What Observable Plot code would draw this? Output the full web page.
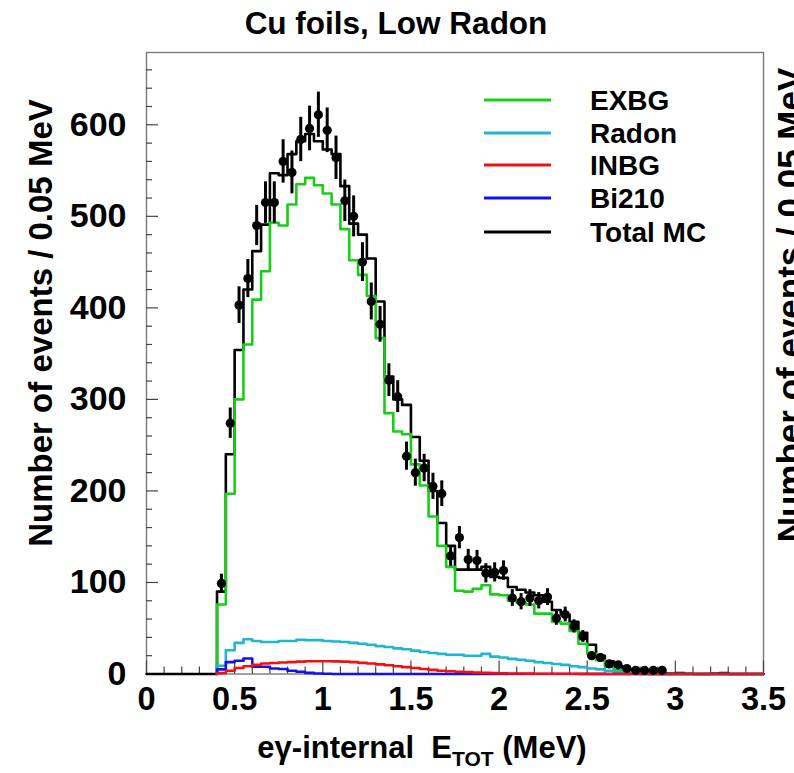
<!DOCTYPE html>
<html><head><meta charset="utf-8">
<script src="https://cdn.jsdelivr.net/npm/d3@7"></script>
<script src="https://cdn.jsdelivr.net/npm/@observablehq/plot@0.6"></script>
<style>
html,body{margin:0;padding:0;background:#fff;}
#chart{width:794px;height:773px;overflow:hidden;position:relative;}
</style></head><body><div id="chart"></div>
<script>
// Bin lower edges (0.05 MeV bins from 0.40 to 3.45)
const binLow = d3.range(62).map(i => +(0.40 + 0.05 * i).toFixed(2));
const xTicks = [0, 0.5, 1, 1.5, 2, 2.5, 3, 3.5];
const yTicks = [0, 100, 200, 300, 400, 500, 600];
const legendLabels = ["EXBG", "Radon", "INBG", "Bi210", "Total MC"];

// EXBG (green)
const exbg = [76,197,300,360,409,440,493,490,513,535,542,534,525,513,486,452,436,413,367,285,
  265,262,229,206,172,140,117,91,90,93,97,87,86,80,78,76,66,66,57,55,
  47,33,22,15,8,4,2,1,0.5,0,0,0,0,0,0,0,0,0,0,0,0,0];
// Radon (cyan)
const radon = [9,26,34,38,36,35,35,36,36,37.5,37,37,36,35.5,35,34,33,32,30.5,29.5,
  28,27,25.5,24,23,22,21,21,20,20,22,19,18,16.5,15.5,14.5,13,12,11,10,
  8.5,7.5,6,5,3.5,2,0.8,0.3,0,0,0,0,0,0,0,0,0,0,0,0,0,0];
// INBG (red)
const inbg = [1,3.5,6.5,8.5,10,11.5,12,12.5,13,13.5,14,14,14,13.8,13.5,13,12.2,11.5,10.5,9.5,
  8.5,7.5,6.5,5.5,4.5,3.5,3,2.5,2,1.5,1.2,1,0.8,0.6,0.5,0.4,0.3,0.3,0.2,0.2,
  0.2,0.1,0.1,0.1,0,0,0,0,0,0,0,0,0,0,0,0,0,0,0,0,0,0];
// Bi210 (blue)
const bi210 = [5,13,14.5,17,8,8,6,5.5,3.5,2.5,1.2,0.5,0.2,0,0,0,0,0,0,0,
  0,0,0,0,0,0,0,0,0,0,0,0,0,0,0,0,0,0,0,0,
  0,0,0,0,0,0,0,0,0,0,0,0,0,0,0,0,0,0,0,0,0,0];
// Total MC (black)
const totalMC = [90,240,354,420,462,491,547,545,568,582,590,582,573,568,533,492,480,454,407,325,
  300,294,259,233,200,165,140,114,114,114,117,106,105,95,92,89,86,79,70,65,
  57,45,32,20,14,8.5,5.5,3.5,2.5,1.5,1,0.5,1,0.3,0,0,0.5,1,0,0,0,0];

// Data points (bins 0.40 .. 2.90), counts and errors
const dataCounts = [99,274,403,432,490,515,515,560,548,584,596,611,594,564,517,500,450,407,382,321,
  303,238,220,225,205,197,129,149,125,124,110,111,113,83,79,83,80,84,61,65,
  52,41,20,18,11,10,6,4,4,4,4];
const dataErrors = [10,16.6,20,20.8,22,22.7,22.7,23.7,23.4,24.2,24.4,24.7,24.4,23.7,22.7,22.4,21.2,20.2,19.5,17.9,
  17.4,15.4,14.8,15,14.3,14,11.4,12.2,11.2,11.1,10.5,10.5,10.6,9.1,8.9,9.1,8.9,9.2,7.8,8.1,
  7.2,6.4,4.5,4.2,3.3,3.2,2.4,2,2,2,2];

const colors = {EXBG: "#18cf18", Radon: "#20b6d2", INBG: "#f21010", Bi210: "#1212ee", "Total MC": "#000000"};

function steps(values, start) {
  const pts = [{x: start, y: 0}];
  values.forEach((v, i) => pts.push({x: binLow[i], y: v}));
  pts.push({x: 3.5, y: values[values.length - 1]});
  return pts;
}

const points = dataCounts.map((c, i) => ({x: binLow[i] + 0.025, y: c, e: dataErrors[i]}));

const W = 794, H = 773;
const mL = 146, mR = 31, mT = 52, mB = 99.5;
const yMax = 679;
const pxPerY = (H - mT - mB) / yMax;
const pxPerX = (W - mL - mR) / 3.5;

const xMinor = d3.range(0, 36).map(i => +(i * 0.1).toFixed(2)).filter(v => !xTicks.some(t => Math.abs(t - v) < 1e-6));
const yMinor = d3.range(0, 34).map(i => i * 20).filter(v => v % 100 !== 0);

const font = "'Liberation Sans', Arial, Helvetica, sans-serif";
const lineW = 2.6;

const plot = Plot.plot({
  width: W, height: H,
  marginLeft: mL, marginRight: mR, marginTop: mT, marginBottom: mB,
  x: {domain: [0, 3.5]},
  y: {domain: [0, yMax]},
  style: {fontFamily: font, background: "white", overflow: "visible"},
  marks: [
    Plot.frame({stroke: "#7a7a7a", strokeWidth: 1.4}),
    // ticks (ROOT style, inward)
    Plot.ruleX(xTicks, {x: d => d, y1: 0, y2: 13 / pxPerY, stroke: "#444", strokeWidth: 1.2}),
    Plot.ruleX(xMinor, {x: d => d, y1: 0, y2: 7 / pxPerY, stroke: "#444", strokeWidth: 1.2}),
    Plot.ruleY(yTicks, {y: d => d, x1: 0, x2: 12 / pxPerX, stroke: "#444", strokeWidth: 1.2}),
    Plot.ruleY(yMinor, {y: d => d, x1: 0, x2: 6 / pxPerX, stroke: "#444", strokeWidth: 1.2}),
    Plot.axisX({ticks: xTicks, tickSize: 0, tickPadding: 13, fontSize: 32.5, fontWeight: "bold", label: null, tickFormat: d => String(d)}),
    Plot.axisY({ticks: yTicks, tickSize: 0, tickPadding: 20, fontSize: 34, fontWeight: "bold", label: null}),
    // histograms
    Plot.line(steps(totalMC, 0), {x: "x", y: "y", curve: "step-after", stroke: colors["Total MC"], strokeWidth: lineW}),
    Plot.line(steps(exbg, 0.4), {x: "x", y: "y", curve: "step-after", stroke: colors.EXBG, strokeWidth: lineW}),
    Plot.line(steps(radon, 0.4), {x: "x", y: "y", curve: "step-after", stroke: colors.Radon, strokeWidth: lineW}),
    Plot.line(steps(bi210, 0.4), {x: "x", y: "y", curve: "step-after", stroke: colors.Bi210, strokeWidth: lineW}),
    Plot.line(steps(inbg, 0.4), {x: "x", y: "y", curve: "step-after", stroke: colors.INBG, strokeWidth: lineW}),
    // data with errors
    Plot.ruleX(points, {x: "x", y1: d => Math.max(0, d.y - d.e), y2: d => d.y + d.e, stroke: "black", strokeWidth: 3}),
    Plot.dot(points, {x: "x", y: "y", r: 4.6, fill: "black", stroke: "none"})
  ]
});

document.getElementById("chart").appendChild(plot);
const svg = d3.select(plot);

// Title
svg.append("text").attr("x", 396).attr("y", 34).attr("text-anchor", "middle")
  .attr("font-family", font).attr("font-weight", "bold").attr("font-size", 31.5)
  .text("Cu foils, Low Radon");

// Y label
svg.append("text").attr("transform", "translate(52,323) rotate(-90)").attr("text-anchor", "middle")
  .attr("font-family", font).attr("font-weight", "bold").attr("font-size", 33)
  .text("Number of events / 0.05 MeV");

// Neighbouring panel's y label (cut by the right edge, as in the reference)
svg.append("text").attr("transform", "translate(802,305) rotate(-90)").attr("text-anchor", "middle")
  .attr("font-family", font).attr("font-weight", "bold").attr("font-size", 35)
  .text("Number of events / 0.05 MeV");

// X label with subscript
const xl = svg.append("text").attr("x", 422).attr("y", 758).attr("text-anchor", "middle")
  .attr("font-family", font).attr("font-weight", "bold").attr("font-size", 31);
xl.append("tspan").text("e\u03b3-internal\u00a0 E");
xl.append("tspan").attr("dy", 8).attr("font-size", 21).text("TOT");
xl.append("tspan").attr("dy", -8).text(" (MeV)");

// Legend
const legY = [100, 133, 165, 198, 232];
legendLabels.forEach((name, i) => {
  svg.append("line").attr("x1", 484).attr("x2", 551).attr("y1", legY[i]).attr("y2", legY[i])
    .attr("stroke", colors[name]).attr("stroke-width", 3);
  svg.append("text").attr("x", 590).attr("y", legY[i]).attr("dy", "0.36em")
    .attr("text-anchor", "start")
    .attr("font-family", font).attr("font-size", 28).attr("font-weight", "bold")
    .text(name);
});
</script>
</body></html>
